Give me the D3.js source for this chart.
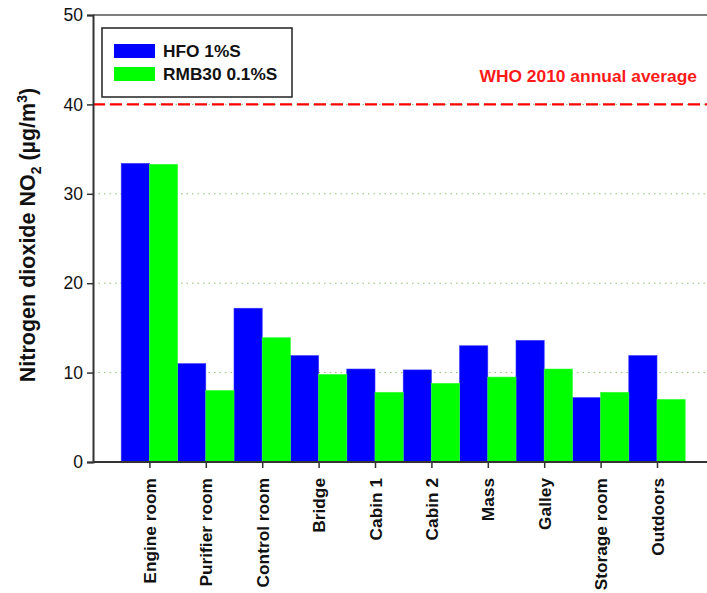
<!DOCTYPE html>
<html>
<head>
<meta charset="utf-8">
<script src="https://cdn.jsdelivr.net/npm/d3@7"></script>
<style>
  html, body { margin: 0; padding: 0; background: #fff; }
  svg { display: block; font-family: "Liberation Sans", Arial, sans-serif; }
</style>
</head>
<body>
<svg id="chart" width="707" height="593"></svg>
<script>
// NO2 concentrations by location on board, for two fuel types
const categories = ["Engine room", "Purifier room", "Control room", "Bridge", "Cabin 1",
                    "Cabin 2", "Mass", "Galley", "Storage room", "Outdoors"];
const hfoValues   = [33.4, 11.0, 17.2, 11.9, 10.4, 10.3, 13.0, 13.6, 7.2, 11.9];
const rmbValues   = [33.3, 8.0, 13.9, 9.8, 7.8, 8.8, 9.5, 10.4, 7.8, 7.0];
const seriesNames = ["HFO 1%S", "RMB30 0.1%S"];
const seriesColors = ["#0000ff", "#00ff00"];
const yTicks = [0, 10, 20, 30, 40, 50];
const gridValues = [10, 20, 30];
const whoLimit = 40;
const whoLabel = "WHO 2010 annual average";

const svg = d3.select("#chart");
const plotLeft = 93, plotTop = 15, plotBottom = 462, plotRight = 707;

// category slots: slot 0 is left empty, categories occupy slots 1..10
const x = d3.scaleLinear().domain([0, 11]).range([plotLeft, plotLeft + 11 * 56.4]);
const y = d3.scaleLinear().domain([0, 50]).range([plotBottom, plotTop]);
const barW = (x(1) - x(0)) / 2;

// dotted gridlines
svg.append("g").selectAll("line").data(gridValues.concat([whoLimit])).join("line")
  .attr("x1", plotLeft).attr("x2", plotRight)
  .attr("y1", d => y(d)).attr("y2", d => y(d))
  .attr("stroke", "#8fbf6f").attr("stroke-width", 1)
  .attr("stroke-dasharray", "1.5,4");

// bars
const series = [hfoValues, rmbValues];
series.forEach((vals, si) => {
  svg.append("g").selectAll("rect").data(vals).join("rect")
    .attr("x", (d, i) => x(i + 1) - barW + si * barW)
    .attr("y", d => y(d))
    .attr("width", barW)
    .attr("height", d => y(0) - y(d))
    .attr("fill", seriesColors[si])
    .attr("stroke", si === 0 ? "#3333ff" : "#33ff33")
    .attr("stroke-width", 0.6);
});

// WHO limit line
svg.append("line")
  .attr("x1", plotLeft).attr("x2", plotRight)
  .attr("y1", y(whoLimit)).attr("y2", y(whoLimit))
  .attr("stroke", "#ff0000").attr("stroke-width", 2.2)
  .attr("stroke-dasharray", "12,5");

svg.append("text")
  .attr("x", 697).attr("y", 82)
  .attr("text-anchor", "end")
  .attr("fill", "#ff1a1a")
  .attr("font-weight", "bold")
  .attr("font-size", 17.4)
  .text(whoLabel);

// top border
svg.append("line")
  .attr("x1", plotLeft).attr("x2", plotRight)
  .attr("y1", plotTop).attr("y2", plotTop)
  .attr("stroke", "#555").attr("stroke-width", 1.6);

// y axis
const yAxis = d3.axisLeft(y).tickValues(yTicks).tickSize(6).tickPadding(4).tickFormat(d3.format("d"));
const yg = svg.append("g").attr("transform", `translate(${plotLeft},0)`).call(yAxis);
yg.select(".domain").attr("stroke", "#333").attr("stroke-width", 2);
yg.selectAll(".tick line").attr("stroke", "#333").attr("stroke-width", 1.5);
yg.selectAll(".tick text").attr("font-size", 17.5).attr("fill", "#111")
  .attr("font-family", "'Liberation Sans', Arial, sans-serif");

// x axis baseline
svg.append("line")
  .attr("x1", plotLeft).attr("x2", plotRight)
  .attr("y1", plotBottom).attr("y2", plotBottom)
  .attr("stroke", "#333").attr("stroke-width", 2);

const xAxis = d3.axisBottom(x).tickValues(d3.range(1, 11)).tickSize(6)
  .tickFormat(d => categories[d - 1]);
const xg = svg.append("g").attr("transform", `translate(0,${plotBottom})`).call(xAxis);
xg.select(".domain").remove();
xg.selectAll(".tick line").attr("stroke", "#333").attr("stroke-width", 1.5);
xg.selectAll(".tick text")
  .attr("font-size", 17.3).attr("font-weight", "bold").attr("fill", "#111")
  .attr("font-family", "'Liberation Sans', Arial, sans-serif")
  .attr("text-anchor", "end")
  .attr("transform", "rotate(-90)")
  .attr("x", -16).attr("y", 0).attr("dy", "0.35em");

// y axis title
const yt = svg.append("text")
  .attr("transform", "translate(35,235) rotate(-90)")
  .attr("text-anchor", "middle")
  .attr("font-weight", "bold")
  .attr("font-size", 21.5)
  .attr("fill", "#111");
yt.append("tspan").text("Nitrogen dioxide NO");
yt.append("tspan").attr("font-size", 14).attr("dy", 6).text("2");
yt.append("tspan").attr("dy", -6).text(" (µg/m");
yt.append("tspan").attr("font-size", 14).attr("dy", -8).text("3");
yt.append("tspan").attr("dy", 8).text(")");

// legend
const lg = svg.append("g");
lg.append("rect")
  .attr("x", 102).attr("y", 28).attr("width", 190).attr("height", 69)
  .attr("fill", "#fff").attr("stroke", "#222").attr("stroke-width", 1.5);
seriesNames.forEach((name, i) => {
  lg.append("rect")
    .attr("x", 114).attr("y", 44 + i * 23).attr("width", 41).attr("height", 14)
    .attr("fill", seriesColors[i]);
  lg.append("text")
    .attr("x", 163).attr("y", 51 + i * 23).attr("dy", "0.36em")
    .attr("font-weight", "bold").attr("font-size", 17.3).attr("fill", "#111")
    .text(name);
});
</script>
</body>
</html>
